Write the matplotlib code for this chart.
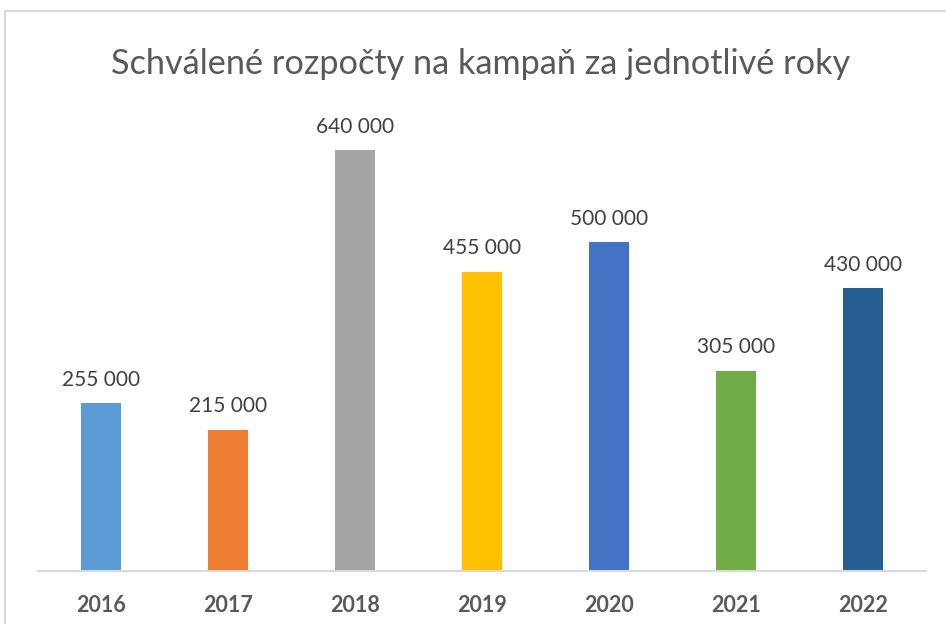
import matplotlib
matplotlib.use("Agg")
import matplotlib.pyplot as plt
from matplotlib.patches import Rectangle

years = ["2016", "2017", "2018", "2019", "2020", "2021", "2022"]
values = [255000, 215000, 640000, 455000, 500000, 305000, 430000]
colors = ["#5B9BD5", "#ED7D31", "#A5A5A5", "#FFC000", "#4472C4", "#70AD47", "#255E91"]
title = "Schválené rozpočty na kampaň za jednotlivé roky"

W, H = 946, 624
fig = plt.figure(figsize=(W / 100, H / 100), dpi=100)
fig.patches.append(Rectangle((5 / W, -0.1), 2, (H - 11) / H + 0.1, transform=fig.transFigure,
                             fill=False, edgecolor="#D9D9D9", linewidth=1.5))

ax = fig.add_axes([38 / W, (H - 571) / H, (926 - 38) / W, (571 - 111) / H])
x = list(range(len(years)))
bars = ax.bar(x, values, width=0.315, color=colors)
ax.set_xlim(-0.5, len(years) - 0.5)
ax.set_ylim(0, 700000)
for xi, v in zip(x, values):
    lab = f"{v:,}".replace(",", " ")
    ax.annotate(lab, (xi, v), xytext=(0, 10), textcoords="offset points", ha="center", va="bottom",
                fontsize=15, color="#404040", family="Lato")
ax.set_xticks(x)
ax.set_xticklabels(years, fontsize=15.5, fontweight="bold", color="#595959", family="Lato")
ax.tick_params(axis="x", length=0, pad=17)
ax.set_yticks([])
for s in ["top", "right", "left"]:
    ax.spines[s].set_visible(False)
ax.spines["bottom"].set_color("#D9D9D9")
ax.spines["bottom"].set_linewidth(1.5)

fig.text(481 / W, 1 - 64 / H, title, ha="center", va="center", fontsize=24.7, color="#595959", family="Lato")

fig.savefig("out.png", dpi=100)
